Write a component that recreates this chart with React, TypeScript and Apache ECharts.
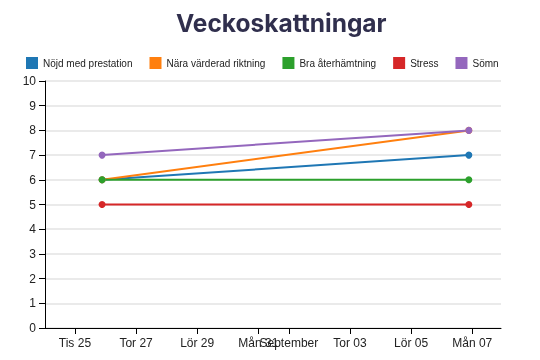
import React, { useEffect, useRef } from 'react';
import * as echarts from 'echarts';

const seriesNames = ['Nöjd med prestation', 'Nära värderad riktning', 'Bra återhämtning', 'Stress', 'Sömn'];
const seriesColors = ['#1f77b4', '#ff7f0e', '#2ca02c', '#d62728', '#9467bd'];
const pointDates = ['2020-08-25T21:20:00Z', '2020-09-06T21:20:00Z'];
const nojdValues = [6, 7];
const naraValues = [6, 8];
const braValues = [6, 6];
const stressValues = [5, 5];
const somnValues = [7, 8];
const tickDates = ['2020-08-25', '2020-08-27', '2020-08-29', '2020-08-31', '2020-09-01', '2020-09-03', '2020-09-05', '2020-09-07'];
const tickLabels = ['Tis 25', 'Tor 27', 'Lör 29', 'Mån 31', 'September', 'Tor 03', 'Lör 05', 'Mån 07'];
const xDomain = ['2020-08-24T00:30:00Z', '2020-09-07T22:35:00Z'];
const yTicks = [0, 10, 1];

export default function App() {
  const ref = useRef<HTMLDivElement>(null);
  useEffect(() => {
    if (!ref.current) return;
    const chart = echarts.init(ref.current, undefined, { renderer: 'svg' });
    const times = pointDates.map((d) => Date.parse(d));
    const tickTimes = tickDates.map((d) => Date.parse(d + 'T00:00:00Z'));
    const labelMap: Record<number, string> = {};
    tickTimes.forEach((t, i) => { labelMap[t] = tickLabels[i]; });
    const allValues = [nojdValues, naraValues, braValues, stressValues, somnValues];
    chart.setOption({
      animation: false,
      title: {
        text: 'Veckoskattningar',
        left: 176,
        top: 10,
        padding: 0,
        textStyle: { fontFamily: 'Inter', fontWeight: 700, fontSize: 24.5, color: '#302f4d' },
      },
      legend: {
        top: 57,
        left: 26,
        padding: 0,
        itemWidth: 12,
        itemHeight: 12,
        itemGap: 17,
        icon: 'rect',
        data: seriesNames,
        textStyle: { fontFamily: 'Liberation Sans, Arial', fontSize: 10, color: '#222' },
      },
      grid: { left: 45, right: 39, top: 81, bottom: 32, containLabel: false },
      xAxis: {
        type: 'value',
        min: Date.parse(xDomain[0]),
        max: Date.parse(xDomain[1]),
        splitLine: { show: false },
        axisLine: { show: true, onZero: false, lineStyle: { color: '#000', width: 1 } },
        axisTick: { show: true, length: 6, customValues: tickTimes, lineStyle: { color: '#000' } },
        axisLabel: {
          customValues: tickTimes,
          margin: 9,
          fontFamily: 'Liberation Sans, Arial',
          fontSize: 12,
          color: '#222',
          formatter: (v: number) => labelMap[v] ?? '',
        },
      },
      yAxis: {
        type: 'value',
        min: yTicks[0],
        max: yTicks[1],
        interval: yTicks[2],
        splitLine: { show: true, lineStyle: { color: '#e3e3e3', width: 1.5 } },
        axisLine: { show: true, lineStyle: { color: '#000', width: 1 } },
        axisTick: { show: true, length: 6, lineStyle: { color: '#000' } },
        axisLabel: { margin: 9, fontFamily: 'Liberation Sans, Arial', fontSize: 12, color: '#222' },
      },
      series: seriesNames.map((name, i) => ({
        name,
        type: 'line',
        data: times.map((t, j) => [t, allValues[i][j]]),
        itemStyle: { color: seriesColors[i] },
        lineStyle: { color: seriesColors[i], width: 2 },
        symbol: 'circle',
        symbolSize: 7,
        showSymbol: true,
      })),
    });
    return () => chart.dispose();
  }, []);
  return <div ref={ref} style={{ position: 'fixed', left: 0, top: 0, width: 540, height: 360 }} />;
}
